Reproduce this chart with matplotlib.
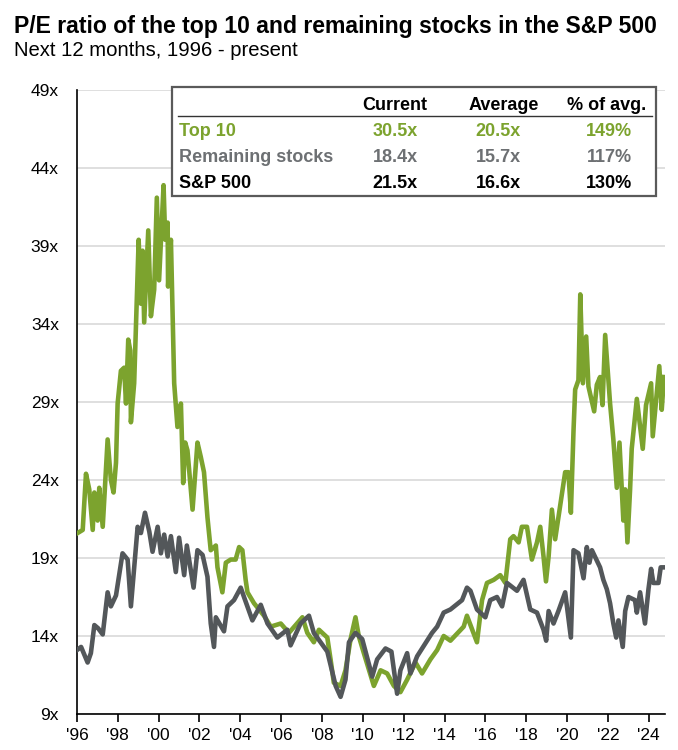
import numpy as np
import matplotlib.pyplot as plt
from matplotlib.patches import Rectangle
from matplotlib.lines import Line2D

plt.rcParams['font.family'] = ['Liberation Sans', 'DejaVu Sans']

GREEN = '#7ca32e'
GRAY = '#53575a'

# Top 10 forward P/E
top10_years = [1996.03, 1996.28, 1996.44, 1996.60, 1996.77, 1996.85, 1997.01, 1997.09, 1997.26,
               1997.50, 1997.66, 1997.79, 1997.91, 1997.99, 1998.15, 1998.31, 1998.40, 1998.51,
               1998.61, 1998.64, 1998.80, 1999.02, 1999.13, 1999.21, 1999.29, 1999.49, 1999.62,
               1999.78, 1999.91, 2000.02, 2000.24, 2000.32, 2000.44, 2000.46, 2000.60, 2000.76,
               2000.92, 2001.09, 2001.20, 2001.30, 2001.41, 2001.66, 2001.90, 2002.06, 2002.22,
               2002.39, 2002.55, 2002.80, 2002.88, 2003.12, 2003.29, 2003.53, 2003.77, 2003.94,
               2004.10, 2004.26, 2004.35, 2004.67, 2005.16, 2005.49, 2005.98, 2006.38, 2007.04,
               2007.28, 2007.60, 2007.85, 2008.26, 2008.42, 2008.58, 2008.91, 2009.15, 2009.40,
               2009.64, 2009.80, 2010.05, 2010.54, 2010.87, 2011.19, 2011.52, 2011.84, 2012.17,
               2012.58, 2012.90, 2013.31, 2013.64, 2013.96, 2014.29, 2014.94, 2015.10, 2015.59,
               2015.84, 2016.08, 2016.41, 2016.73, 2016.98, 2017.22, 2017.38, 2017.63, 2017.79,
               2018.04, 2018.28, 2018.53, 2018.69, 2018.85, 2018.97, 2019.10, 2019.26, 2019.42,
               2019.58, 2019.91, 2020.07, 2020.19, 2020.32, 2020.40, 2020.56, 2020.65, 2020.78,
               2020.94, 2021.05, 2021.33, 2021.46, 2021.62, 2021.74, 2021.87, 2022.11, 2022.27,
               2022.44, 2022.57, 2022.76, 2022.85, 2022.96, 2023.09, 2023.17, 2023.42, 2023.71,
               2023.87, 2024.12, 2024.20, 2024.52, 2024.64, 2024.75]
top10_pe = [20.6, 20.8, 24.4, 23.4, 20.8, 23.2, 21.4, 23.5, 21.0,
            26.6, 24.0, 23.2, 25.1, 28.9, 31.0, 31.2, 28.9, 33.0,
            32.3, 27.7, 30.2, 39.4, 35.3, 38.7, 34.1, 40.0, 34.5,
            36.2, 42.1, 36.8, 42.9, 39.4, 40.5, 36.4, 39.4, 30.2,
            27.4, 28.9, 23.8, 26.4, 25.9, 22.1, 26.4, 25.5, 24.5,
            21.6, 19.5, 19.8, 18.4, 16.8, 18.7, 18.9, 18.9, 19.7,
            19.5, 17.6, 16.8, 16.1, 15.3, 14.6, 14.8, 14.2, 15.2,
            14.2, 13.6, 14.4, 13.9, 12.5, 11.0, 10.8, 11.8, 13.8,
            15.2, 14.0, 12.9, 10.8, 11.8, 11.6, 10.8, 10.4, 11.2,
            12.3, 11.6, 12.5, 13.1, 14.0, 13.7, 14.6, 15.3, 13.6,
            16.3, 17.4, 17.6, 17.9, 17.4, 20.2, 20.4, 20.0, 21.0,
            21.0, 18.9, 20.0, 21.0, 19.1, 17.5, 19.1, 22.1, 20.2,
            21.6, 24.5, 24.5, 21.9, 27.2, 29.8, 30.4, 35.9, 30.2,
            33.2, 30.0, 28.4, 30.1, 30.6, 28.8, 33.3, 28.9, 26.6,
            23.5, 26.4, 21.4, 23.4, 20.0, 23.4, 26.0, 29.2, 26.0,
            28.8, 30.2, 26.8, 31.3, 28.5, 30.6]

# Remaining stocks forward P/E
rest_years = [1996.00, 1996.20, 1996.52, 1996.68, 1996.85, 1997.03, 1997.26, 1997.50, 1997.66,
              1997.91, 1998.23, 1998.48, 1998.64, 1998.97, 1999.13, 1999.33, 1999.54, 1999.70,
              1999.95, 2000.11, 2000.27, 2000.44, 2000.60, 2000.84, 2001.00, 2001.25, 2001.38,
              2001.71, 2001.90, 2002.15, 2002.39, 2002.55, 2002.71, 2002.80, 2003.20, 2003.37,
              2003.69, 2004.02, 2004.18, 2004.59, 2005.00, 2005.33, 2005.81, 2006.30, 2006.46,
              2006.95, 2007.36, 2007.60, 2008.26, 2008.67, 2008.91, 2009.15, 2009.32, 2009.64,
              2009.97, 2010.46, 2010.70, 2011.11, 2011.40, 2011.68, 2011.84, 2012.17, 2012.33,
              2012.66, 2013.39, 2013.64, 2013.96, 2014.29, 2014.86, 2015.10, 2015.27, 2015.59,
              2016.00, 2016.24, 2016.57, 2016.82, 2017.06, 2017.55, 2017.87, 2018.20, 2018.53,
              2018.85, 2018.98, 2019.10, 2019.34, 2019.58, 2019.91, 2020.19, 2020.32, 2020.56,
              2020.81, 2020.97, 2021.10, 2021.22, 2021.62, 2021.78, 2021.95, 2022.11, 2022.27,
              2022.41, 2022.52, 2022.73, 2022.85, 2023.01, 2023.33, 2023.42, 2023.58, 2023.82,
              2023.99, 2024.12, 2024.23, 2024.48, 2024.59, 2024.75]
rest_pe = [13.1, 13.3, 12.3, 12.9, 14.7, 14.5, 14.1, 16.8, 15.9,
           16.6, 19.3, 18.9, 15.9, 21.0, 20.6, 21.9, 20.7, 19.4,
           21.0, 19.3, 20.5, 19.1, 20.4, 18.1, 20.3, 17.9, 19.8,
           17.1, 19.5, 19.2, 17.8, 14.8, 13.3, 15.2, 14.3, 15.9,
           16.3, 17.1, 16.5, 15.0, 16.0, 14.8, 13.9, 14.4, 13.4,
           14.8, 15.3, 14.2, 13.0, 10.8, 10.1, 11.2, 13.6, 14.2,
           13.8, 11.4, 12.5, 13.2, 13.0, 10.3, 11.8, 12.9, 11.6,
           12.7, 14.2, 14.6, 15.5, 15.7, 16.3, 17.1, 16.9, 15.7,
           15.2, 16.3, 16.5, 15.9, 17.4, 16.9, 17.6, 15.7, 15.5,
           14.4, 13.7, 15.6, 14.8, 15.6, 16.8, 13.9, 19.5, 19.3,
           17.7, 19.7, 18.7, 19.5, 18.4, 17.6, 17.0, 16.1, 14.8,
           13.9, 15.0, 13.3, 15.6, 16.5, 16.3, 15.5, 16.8, 14.8,
           17.0, 18.3, 17.4, 17.4, 18.4, 18.4]

yticks = [9, 14, 19, 24, 29, 34, 39, 44, 49]
xtick_years = list(range(1996, 2025, 2))

table_header = ['Current', 'Average', '% of avg.']
table_rows = ['Top 10', 'Remaining stocks', 'S&P 500']
table_current = ['30.5x', '18.4x', '21.5x']
table_average = ['20.5x', '15.7x', '16.6x']
table_pct = ['149%', '117%', '130%']
row_colors = [GREEN, '#6d7073', 'black']

W, H = 678, 750
fig = plt.figure(figsize=(W / 100, H / 100), dpi=100)
ax = fig.add_axes([77 / W, 1 - 714 / H, (665 - 77) / W, (714 - 90) / H])


def fx(px):
    return px / W


def fy(py):
    return 1 - py / H


ax.plot(top10_years, top10_pe, color=GREEN, lw=3.3, solid_joinstyle='round', zorder=3)
ax.plot(rest_years, rest_pe, color=GRAY, lw=3.3, solid_joinstyle='round', zorder=4)

ax.set_xlim(1996, 2024.8)
ax.set_ylim(9, 49)
ax.set_yticks(yticks)
ax.set_yticklabels([f'{v}x' for v in yticks], fontsize=12.5)
ax.set_xticks(xtick_years)
ax.set_xticklabels([f"'{y % 100:02d}" for y in xtick_years], fontsize=12.5)
ax.grid(axis='y', color='#d9d9d9', lw=1.2)
ax.set_axisbelow(True)
for s in ['top', 'right']:
    ax.spines[s].set_visible(False)
ax.spines['left'].set_linewidth(1.2)
ax.spines['bottom'].set_linewidth(1.2)
ax.tick_params(axis='y', length=0, pad=13)
ax.tick_params(axis='x', length=6, width=1.2, direction='out', pad=4)

# titles
fig.text(fx(14), fy(26), 'P/E ratio of the top 10 and remaining stocks in the S&P 500',
         fontsize=16.6, fontweight='bold', va='center', ha='left')
fig.text(fx(14), fy(51), 'Next 12 months, 1996 - present', fontsize=14.6, va='center', ha='left')

# summary table box
fig.patches.append(Rectangle((fx(172), fy(196)), fx(656) - fx(172), fy(87) - fy(196),
                             transform=fig.transFigure, facecolor='white',
                             edgecolor='#5a5a5a', lw=1.6, zorder=5))
fig.lines.append(Line2D([fx(178), fx(652)], [fy(116), fy(116)], transform=fig.transFigure,
                        color='#333333', lw=1.0, zorder=6))
head_x = [395, 504, 607]
val_x = [395, 498, 609]
for cx, h in zip(head_x, table_header):
    fig.text(fx(cx), fy(105), h, fontsize=13, fontweight='bold', ha='center', va='center', zorder=7)
row_y = [132, 158, 183]
for i, name in enumerate(table_rows):
    c = row_colors[i]
    fig.text(fx(179), fy(row_y[i]), name, fontsize=13, fontweight='bold', color=c,
             ha='left', va='center', zorder=7)
    for cx, val in zip(val_x, [table_current[i], table_average[i], table_pct[i]]):
        fig.text(fx(cx), fy(row_y[i]), val, fontsize=13, fontweight='bold', color=c,
                 ha='center', va='center', zorder=7)

fig.savefig('out.png', dpi=100)
